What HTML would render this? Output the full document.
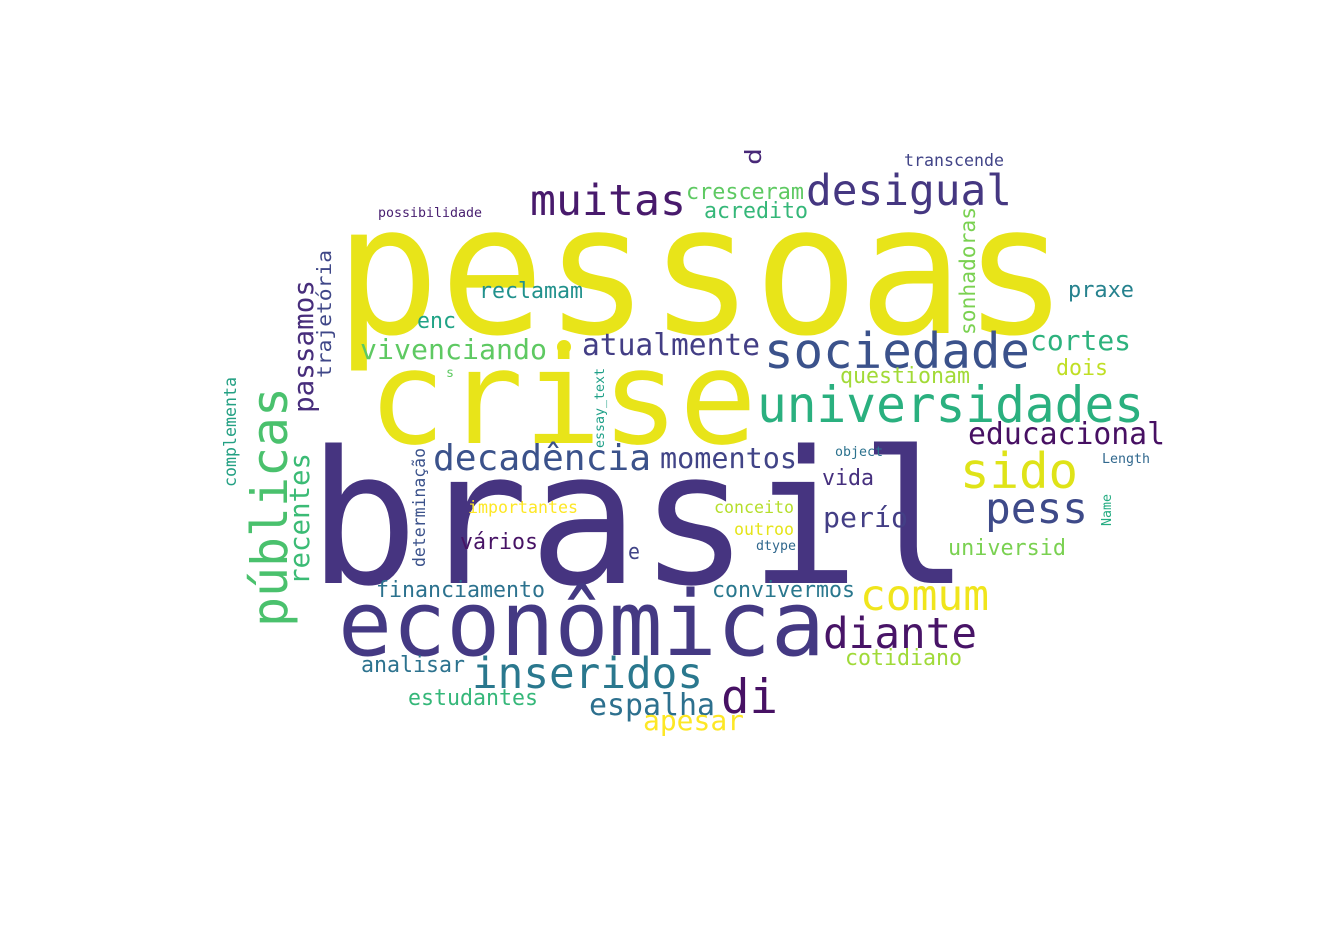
<!DOCTYPE html>
<html><head><meta charset="utf-8"><style>
html,body{margin:0;padding:0;background:#fff;}
svg{display:block;}
text{font-family:"DejaVu Sans Mono","Liberation Mono",monospace;}
</style></head>
<body>
<svg id="cloud" width="1334" height="945" viewBox="0 0 1334 945" xmlns="http://www.w3.org/2000/svg">
<rect width="1334" height="945" fill="#fff"/>
<circle cx="564" cy="347" r="7" fill="#e8e419"/>
</svg>
<script>
// word, x, baseline y, width, font size, color, rotated(1=-90deg)
const words = ["pessoas","crise","brasil","econômica","públicas","muitas","desigual","sociedade","universidades","sido","pess","educacional","cortes","praxe","dois","questionam","atualmente","vivenciando","reclamam","enc","cresceram","acredito","d","transcende","possibilidade","trajetória","passamos","sonhadoras","essay_text","s","complementa","decadência","momentos","recentes","determinação","object","Length","Name","vida","perío","importantes","conceito","outroo","dtype","e","vários","universid","comum","diante","financiamento","convivermos","inseridos","analisar","di","cotidiano","espalha","apesar","estudantes"];
const weights = [180,130,185,90,50,43,43,49,50,49,43,30,28,22,22,22,30,28,22,22,22,22,22,16.5,13.3,19.5,28,21,13.3,13,16.7,36,28.5,28,16.5,13.3,13.3,13.3,22,28,16.7,16.7,16.7,13.3,22,22,22,43,43,22,22,43,22,47,22,30,28,22];
const colors = ["#e8e419","#e8e419","#463480","#443983","#4ac16d","#481a6c","#453781","#3b528b","#2ab07f","#dfe318","#3e4a89","#471063","#2db27d","#26828e","#c0df25","#a2da37","#433e85","#5ec962","#21918c","#20a386","#5ec962","#35b779","#482878","#414487","#481f70","#3f4788","#472d7b","#7ad151","#1fa088","#5ec962","#23a083","#3b528b","#414487","#3bbb75","#3b528b","#2c728e","#31688e","#25ac82","#46307e","#433e85","#fde725","#b5de2b","#e5e419","#31688e","#414487","#471365","#7ad151","#f0e51c","#481467","#2c728e","#2a788e","#2a788e","#2c728e","#471164","#a0da39","#2d708e","#fde725","#35b779"];
const xs = [335,368,308,338,287,530,806,764,757,960,985,968,1030,1068,1056,840,582,360,479,417,686,704,761,904,378,331,313,975,604,446,236,433,660,309,425,835,1102,1111,822,823,468,714,734,756,628,460,948,860,823,376,712,472,361,721,845,589,643,408];
const ys = [333,443,583,655,627,215,205,368,422,488,523,444,350,297,375,383,355,359,298,328,199,218,165,166,217,378,413,335,448,377,487,470,468,585,567,456,463,526,485,527,513,513,535,550,559,549,555,610,648,597,597,688,672,713,665,715,730,705];
const lens = [733,389,662,487,240,156,206,266,387,118,103,197,101,66,52,130,178,187,104,39,118,104,17,100,104,128,133,128,80,8,110,218,137,132,119,48,48,32,52,85,110,80,60,40,12,78,118,129,154,169,143,231,104,57,117,126,101,130];
const rot = [0,0,0,0,1,0,0,0,0,0,0,0,0,0,0,0,0,0,0,0,0,0,1,0,0,1,1,1,1,0,1,0,0,1,1,0,0,1,0,0,0,0,0,0,0,0,0,0,0,0,0,0,0,0,0,0,0,0];
const svg = document.getElementById('cloud');
const NS = 'http://www.w3.org/2000/svg';
for (let i = 0; i < words.length; i++) {
  const t = document.createElementNS(NS, 'text');
  
  
  t.setAttribute('x', xs[i]);
  t.setAttribute('y', ys[i]);
  t.setAttribute('font-size', weights[i]);
  t.setAttribute('fill', colors[i]);
  t.setAttribute('textLength', lens[i]);
  t.setAttribute('lengthAdjust', 'spacingAndGlyphs');
  if (rot[i]) t.setAttribute('transform', 'rotate(-90 ' + xs[i] + ' ' + ys[i] + ')');
  t.textContent = words[i];
  svg.appendChild(t);
}
</script>
</body></html>
